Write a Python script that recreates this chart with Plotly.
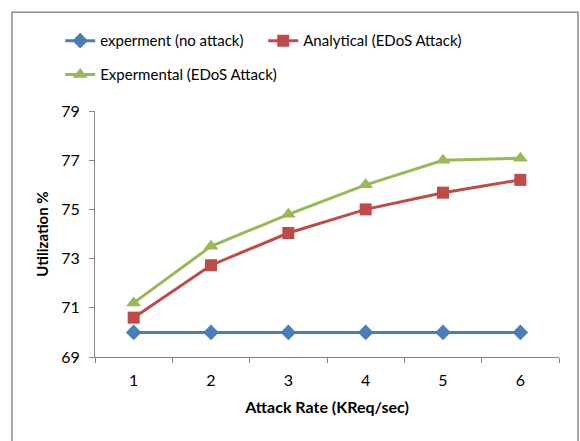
import plotly.graph_objects as go

# Attack rate categories (KReq/sec)
attack_rate = ["1", "2", "3", "4", "5", "6"]

# Utilization % per series
no_attack = [70.0, 70.0, 70.0, 70.0, 70.0, 70.0]
analytical_edos = [70.6, 72.73, 74.04, 75.0, 75.68, 76.2]
experimental_edos = [71.2, 73.5, 74.8, 76.0, 77.0, 77.08]

y_ticks = [69, 71, 73, 75, 77, 79]

FONT = "Lato, Calibri, Carlito, sans-serif"

fig = go.Figure()

fig.add_trace(go.Scatter(
    x=attack_rate, y=no_attack, name="experment (no attack)",
    mode="lines+markers",
    line=dict(color="#4A7EBB", width=3),
    marker=dict(symbol="diamond", size=12, color="#4A7EBB"),
    legend="legend",
))
fig.add_trace(go.Scatter(
    x=attack_rate, y=analytical_edos, name="Analytical (EDoS Attack)",
    mode="lines+markers",
    line=dict(color="#BE4B48", width=3),
    marker=dict(symbol="square", size=12, color="#BE4B48"),
    legend="legend",
))
fig.add_trace(go.Scatter(
    x=attack_rate, y=experimental_edos, name="Expermental (EDoS Attack)",
    mode="lines+markers",
    line=dict(color="#98B954", width=3),
    marker=dict(symbol="triangle-up", size=13, color="#98B954"),
    legend="legend2",
))

fig.update_layout(
    width=580, height=441,
    margin=dict(l=95, r=21, t=111, b=84, autoexpand=False),
    paper_bgcolor="white",
    plot_bgcolor="white",
    font=dict(family=FONT, size=15, color="#000000"),
    showlegend=True,
    legend=dict(
        orientation="h", x=-0.075, y=1.285, xanchor="left", yanchor="middle",
        font=dict(family=FONT, size=15), bgcolor="rgba(0,0,0,0)",
        entrywidth=158, entrywidthmode="pixels",
    ),
    legend2=dict(
        orientation="h", x=-0.075, y=1.147, xanchor="left", yanchor="middle",
        font=dict(family=FONT, size=15), bgcolor="rgba(0,0,0,0)",
    ),
    xaxis=dict(
        type="category", range=[-0.5, 5.5],
        tickson="boundaries", ticks="outside", ticklen=5,
        tickcolor="#868686", showline=True, linecolor="#868686", linewidth=1,
        showgrid=False, zeroline=False,
        ticklabelstandoff=9,
        tickfont=dict(family=FONT, size=16),
        title=dict(text="<b>Attack Rate (KReq/sec)</b>", standoff=13,
                   font=dict(family=FONT, size=16)),
    ),
    yaxis=dict(
        range=[69, 79], tickvals=y_ticks,
        ticks="outside", ticklen=5, tickcolor="#868686",
        showline=True, linecolor="#868686", linewidth=1,
        showgrid=False, zeroline=False,
        ticklabelstandoff=6,
        tickfont=dict(family=FONT, size=16),
        title=dict(text="<b>Utilization %</b>", standoff=8,
                   font=dict(family=FONT, size=15)),
    ),
    shapes=[dict(
        type="rect", xref="paper", yref="paper",
        x0=-0.179, x1=1.041, y0=-0.37, y1=1.401,
        line=dict(color="#8C8C8C", width=1.5), fillcolor="rgba(0,0,0,0)",
        layer="below",
    )],
)

fig.write_html("out.html")
